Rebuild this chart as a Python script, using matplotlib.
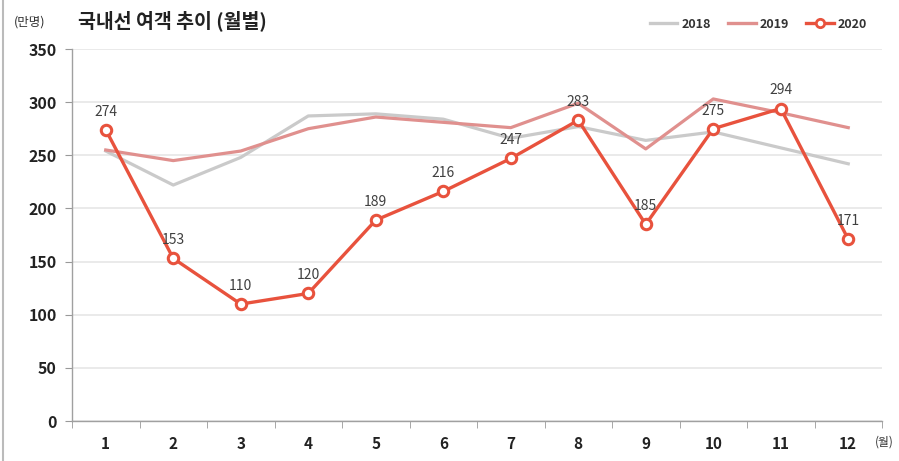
import matplotlib
matplotlib.use("Agg")
import matplotlib.pyplot as plt
from matplotlib.lines import Line2D

plt.rcParams['font.family'] = ['Noto Sans CJK KR', 'DejaVu Sans']

months = ['1', '2', '3', '4', '5', '6', '7', '8', '9', '10', '11', '12']
y2018 = [254, 222, 248, 287, 289, 284, 266, 277, 264, 272, 257, 242]
y2019 = [255, 245, 254, 275, 286, 281, 276, 299, 256, 303, 290, 276]
y2020 = [274, 153, 110, 120, 189, 216, 247, 283, 185, 275, 294, 171]
yticks = [0, 50, 100, 150, 200, 250, 300, 350]

W, H = 899, 461
fig = plt.figure(figsize=(W / 100, H / 100), dpi=100)
ax = fig.add_axes([72 / W, 1 - 421 / H, (882 - 72) / W, (421 - 49) / H])

x = list(range(1, len(months) + 1))
ax.plot(x, y2018, color='#cacaca', lw=2.3, label='2018', zorder=2)
ax.plot(x, y2019, color='#e0908e', lw=2.3, label='2019', zorder=3)
ax.plot(x, y2020, color='#e8523d', lw=2.4, marker='o', ms=7.5, mfc='white',
        mec='#e8523d', mew=2.2, label='2020', zorder=4)

for xi, v in zip(x, y2020):
    ax.annotate(str(v), (xi, v), xytext=(0, 8), textcoords='offset points',
                ha='center', va='bottom', fontsize=10, color='#404040', zorder=5)

ax.set_xlim(0.5, 12.5)
ax.set_ylim(0, 350)
ax.set_yticks(yticks)
ax.set_yticklabels([str(t) for t in yticks], fontsize=11.5, fontweight='bold', color='#222222')
ax.set_xticks(x)
ax.set_xticklabels(months, fontsize=11, fontweight='bold', color='#222222')
ax.tick_params(axis='x', which='major', length=0, pad=11)
ax.set_xticks([i + 0.5 for i in range(0, 13)], minor=True)
ax.tick_params(axis='x', which='minor', length=5, color='#999999', direction='out')
ax.tick_params(axis='y', length=5, color='#999999', pad=6)

ax.grid(axis='y', color='#e6e6e6', lw=1.2, zorder=0)
ax.set_axisbelow(True)
for s in ['top', 'right']:
    ax.spines[s].set_visible(False)
for s in ['left', 'bottom']:
    ax.spines[s].set_color('#a0a0a0')
    ax.spines[s].set_linewidth(1.0)

fig.text(14 / W, 1 - 22 / H, '(만명)', fontsize=9, color='#333333', va='center', ha='left')
fig.text(78 / W, 1 - 21 / H, '국내선 여객 추이 (월별)', fontsize=14, fontweight='bold',
         color='#222222', va='center', ha='left')
fig.text(875 / W, 1 - 442 / H, '(월)', fontsize=8.5, color='#333333', va='center', ha='left')

handles = [
    Line2D([], [], color='#cacaca', lw=2.4),
    Line2D([], [], color='#e0908e', lw=2.4),
    Line2D([], [], color='#e8523d', lw=2.4, marker='o', ms=6, mfc='white', mec='#e8523d', mew=2),
]
leg = fig.legend(handles, ['2018', '2019', '2020'], loc='center right',
                 bbox_to_anchor=(878 / W, 1 - 24 / H), ncol=3, frameon=False,
                 handlelength=2.2, handletextpad=0.3, columnspacing=1.4,
                 prop={'size': 9, 'weight': 'bold'})
for t in leg.get_texts():
    t.set_color('#333333')

fig.add_artist(Line2D([3 / W, 3 / W], [0, 1], transform=fig.transFigure, color='#bbbbbb', lw=1.5))

fig.savefig('out.png', dpi=100)
